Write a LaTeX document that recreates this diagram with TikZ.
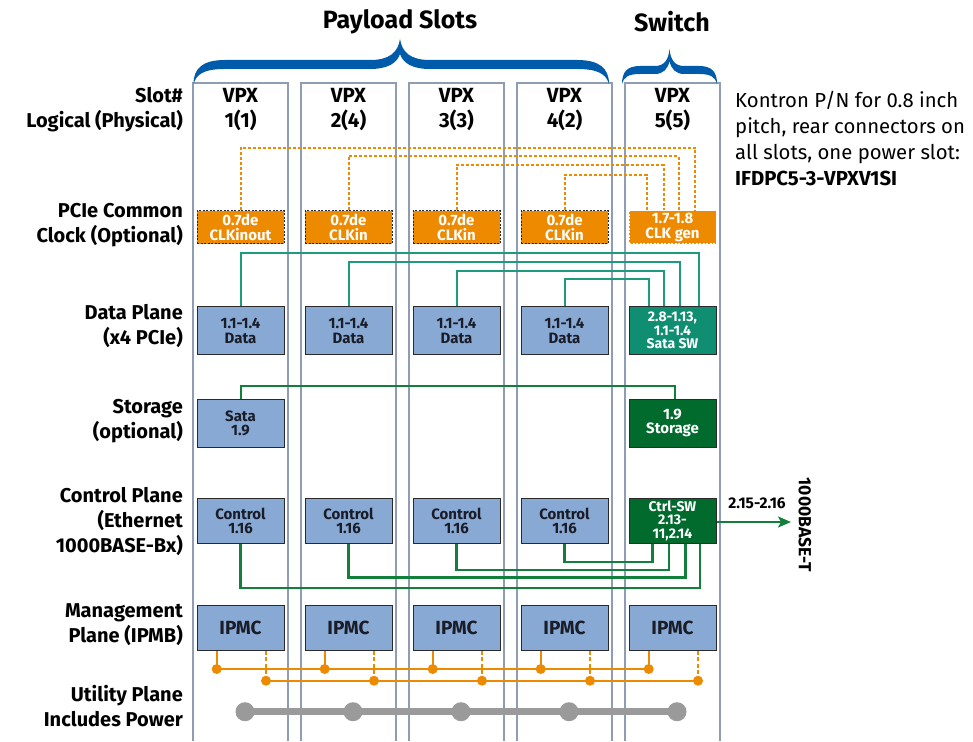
\documentclass[tikz,border=0pt]{standalone}
\usepackage{fontspec}
\setmainfont{Fira Sans}
\usetikzlibrary{arrows.meta,calc}
\definecolor{boxblue}{HTML}{88A9D3}
\definecolor{boxedge}{HTML}{2A2A2A}
\definecolor{clkorange}{HTML}{EE8A00}
\definecolor{swteal}{HTML}{108E72}
\definecolor{tealline}{HTML}{1E9A7C}
\definecolor{dkgreen}{HTML}{006B2D}
\definecolor{greenline}{HTML}{12803A}
\definecolor{colgray}{HTML}{8E9DB2}
\definecolor{bracebl}{HTML}{005BAA}
\definecolor{utilgray}{HTML}{9A9A9A}
\definecolor{inktext}{HTML}{1A1C28}
\begin{document}
\begin{tikzpicture}[x=1pt,y=-1pt,
  colline/.style={draw=colgray,line width=2.2pt},
  rowlab/.style={anchor=east,align=right,inner sep=0pt,text=black,
    font=\bfseries\fontsize{20}{25}\selectfont},
  vpxlab/.style={align=center,inner sep=0pt,text=black,
    font=\bfseries\fontsize{20.5}{25}\selectfont},
  basebox/.style={rectangle,inner sep=0pt,align=center,minimum width=87pt},
  clkbox/.style={basebox,minimum height=33pt,fill=clkorange,draw=boxedge,
    line width=0.8pt,dash pattern=on 2pt off 1.5pt,text=white,
    font=\bfseries\fontsize{15}{14.5}\selectfont},
  bluebox/.style={basebox,fill=boxblue,draw=boxedge,line width=1pt,text=inktext,
    font=\bfseries\fontsize{15}{14.5}\selectfont},
  tealbox/.style={basebox,fill=swteal,draw=boxedge,line width=1pt,text=white,
    font=\bfseries\fontsize{14}{13.5}\selectfont},
  greenbox/.style={basebox,fill=dkgreen,draw=boxedge,line width=1pt,text=white,
    font=\bfseries\fontsize{15}{14}\selectfont},
  clkline/.style={draw=clkorange,line width=2pt,dash pattern=on 3pt off 2pt},
  dataline/.style={draw=tealline,line width=2pt},
  ctlline/.style={draw=greenline,line width=2.2pt},
  busline/.style={draw=clkorange,line width=2.4pt},
  busdash/.style={busline,dash pattern=on 4pt off 2.5pt},
  utilline/.style={draw=utilgray,line width=7pt}]
\useasboundingbox (0,0) rectangle (973,741);

% ---- slot columns (open at the bottom) ----
\foreach \i in {1,...,5}{
  \pgfmathsetmacro\cl{193.3+108*(\i-1)}
  \pgfmathsetmacro\cr{\cl+94.4}
  \draw[colline] (\cl,741) |- (\cr,83) -- (\cr,741);
}

% ---- braces ----
\fill[bracebl] (193.5,84) .. controls (193.5,68) and (203,60) .. (225,60)
  -- (370,60) .. controls (390,60) and (398,52) .. (400,39)
  .. controls (402,52) and (410,60) .. (430,60) -- (577,60)
  .. controls (599,60) and (609,68) .. (609,84)
  .. controls (606,74) and (598,69) .. (577,69) -- (430,69)
  .. controls (412,69) and (403,63) .. (400,54)
  .. controls (397,63) and (388,69) .. (370,69) -- (225,69)
  .. controls (204,69) and (196.5,74) .. (193.5,84) -- cycle;
\fill[bracebl] (622,84) .. controls (622,72) and (627,66) .. (640,66)
  -- (655,66) .. controls (664,66) and (668.5,60) .. (669.5,49)
  .. controls (670.5,60) and (675,66) .. (684,66) -- (699,66)
  .. controls (712,66) and (717,72) .. (717,84)
  .. controls (715,77) and (711,74) .. (699,74) -- (684,74)
  .. controls (676,74) and (671,69) .. (669.5,61)
  .. controls (668,69) and (663,74) .. (655,74) -- (640,74)
  .. controls (628,74) and (624,77) .. (622,84) -- cycle;

\node[font=\bfseries\fontsize{25}{28}\selectfont] (payload) at (400,22) {Payload Slots};
\node[font=\bfseries\fontsize{25}{28}\selectfont] (switch) at (672,22) {Switch};

% ---- row labels ----
\node[rowlab] (lslot) at (183,109.5) {Slot\#\\Logical (Physical)};
\node[rowlab] (lclk)  at (183,225) {PCIe Common\\Clock (Optional)};
\node[rowlab] (ldata) at (183,326) {Data Plane\\(x4 PCIe)};
\node[rowlab] (lsto)  at (183,421) {Storage\\(optional)};
\node[rowlab] (lctl)  at (183,521.5) {Control Plane\\(Ethernet\\1000BASE-Bx)};
\node[rowlab] (lmgmt) at (183,624.5) {Management\\Plane (IPMB)};
\node[rowlab] (lutil) at (183,706.5) {Utility Plane\\Includes Power};

% ---- slot headers and per-slot boxes ----
\foreach \i/\p in {1/1,2/4,3/3,4/2,5/5}{
  \pgfmathsetmacro\cx{240.5+108*(\i-1)}
  \node[vpxlab] (vpx\i) at (\cx,109.5) {VPX\\\i(\p)};
  \node[bluebox,minimum height=45pt,font=\bfseries\fontsize{19}{20}\selectfont]
    (ipmc\i) at (\cx,627.5) {IPMC};
}
\foreach \i in {1,...,4}{
  \pgfmathsetmacro\cx{240.5+108*(\i-1)}
  \node[bluebox,minimum height=48pt] (dat\i) at (\cx,330.7) {1.1-1.4\\Data};
  \node[bluebox,minimum height=45pt] (ctl\i) at (\cx,520.8) {Control\\1.16};
}
\node[clkbox] (clk1) at (240.5,227.3) {0.7de\\CLKinout};
\node[clkbox] (clk2) at (348.5,227.3) {0.7de\\CLKin};
\node[clkbox] (clk3) at (456.5,227.3) {0.7de\\CLKin};
\node[clkbox] (clk4) at (564.5,227.3) {0.7de\\CLKin};
\node[clkbox,draw=white] (clk5) at (672.5,227.3) {1.7-1.8\\CLK gen};

\node[tealbox,minimum height=48pt] (dat5) at (672.5,330.7) {2.8-1.13,\\1.1-1.4\\Sata SW};
\node[bluebox,minimum height=48pt] (sto1) at (240.5,423.3) {Sata\\1.9};
\node[greenbox,minimum height=48pt] (sto5) at (672.5,423.3) {1.9\\Storage};
\node[greenbox,minimum height=45pt,font=\bfseries\fontsize{14}{13.5}\selectfont]
  (ctl5) at (672.5,520.8) {Ctrl-SW\\2.13-\\11,2.14};

% ---- PCIe common clock (dotted) ----
\coordinate (ky1) at (0,147.5);
\coordinate (ky2) at (0,156.3);
\coordinate (ky3) at (0,165);
\coordinate (ky4) at (0,174.6);
\draw[clkline] (clk1.north) -- (clk1.north |- ky1) -| ([xshift=22.5pt]clk5.north);
\draw[clkline] (clk2.north) -- (clk2.north |- ky2) -| ([xshift=6.5pt]clk5.north);
\draw[clkline] (clk3.north) -- (clk3.north |- ky3) -| ([xshift=-9pt]clk5.north);
\draw[clkline] (clk4.north) -- (clk4.north |- ky4) -| ([xshift=-26pt]clk5.north);

% ---- data plane ----
\coordinate (dy1) at (0,253.3);
\coordinate (dy2) at (0,261.8);
\coordinate (dy3) at (0,270.5);
\coordinate (dy4) at (0,278.6);
\draw[dataline] (dat1.north) -- (dat1.north |- dy1) -| ([xshift=26.8pt]dat5.north);
\draw[dataline] (dat2.north) -- (dat2.north |- dy2) -| ([xshift=7.5pt]dat5.north);
\draw[dataline] (dat3.north) -- (dat3.north |- dy3) -| ([xshift=-9pt]dat5.north);
\draw[dataline] (dat4.north) -- (dat4.north |- dy4) -| ([xshift=-24pt]dat5.north);

% ---- storage ----
\coordinate (sy) at (0,386.3);
\draw[ctlline,line width=2pt] (sto1.north) -- (sto1.north |- sy) -| ([xshift=2pt]sto5.north);

% ---- control plane ----
\coordinate (cy1) at (0,588.3);
\coordinate (cy2) at (0,577.5);
\coordinate (cy3) at (0,570);
\coordinate (cy4) at (0,562);
\draw[ctlline] (ctl1.south) -- (ctl1.south |- cy1) -| ([xshift=27.5pt]ctl5.south);
\draw[ctlline] (ctl2.south) -- (ctl2.south |- cy2) -| ([xshift=13pt]ctl5.south);
\draw[ctlline] (ctl3.south) -- (ctl3.south |- cy3) -| ([xshift=-3.5pt]ctl5.south);
\draw[ctlline] (ctl4.south) -- (ctl4.south |- cy4) -| ([xshift=-20pt]ctl5.south);

\coordinate (eth) at (791,522);
\draw[ctlline,-{Stealth[length=13pt,width=11pt,inset=3pt]}] (ctl5.east |- eth) -- (eth);
\node[font=\bfseries\fontsize{15.5}{16}\selectfont] (ethports) at (757,503) {2.15-2.16};
\node[rotate=-90,font=\bfseries\fontsize{17.5}{18}\selectfont] (ethname) at (805,525) {1000BASE-T};

% ---- management plane (IPMB A/B) ----
\foreach \i in {1,...,5}{
  \coordinate (ba\i) at (216.7+108*\i-108,669);
  \coordinate (bb\i) at (266+108*\i-108,680.7);
  \coordinate (u\i) at (245+108*\i-108,711.7);
}
\draw[busline] (ba1) -- (ba5);
\draw[busline] (bb1) -- (bb5);
\foreach \i in {1,...,5}{
  \draw[busline] (ipmc\i.south -| ba\i) -- (ba\i);
  \draw[busdash] (ipmc\i.south -| bb\i) -- (bb\i);
  \fill[clkorange] (ba\i) circle (5pt);
  \fill[clkorange] (bb\i) circle (5pt);
}

% ---- utility plane ----
\draw[utilline] (u1) -- (u5);
\foreach \i in {1,...,5}{\fill[utilgray] (u\i) circle (9.5pt);}

% ---- part number note ----
\node[anchor=north west,align=left,inner sep=0pt,font=\fontsize{20.3}{26}\selectfont]
  (note) at (735,91) {Kontron P/N for 0.8 inch\\pitch, rear connectors on\\all slots, one power slot:\\\textbf{IFDPC5-3-VPXV1SI}};
\end{tikzpicture}
\end{document}
